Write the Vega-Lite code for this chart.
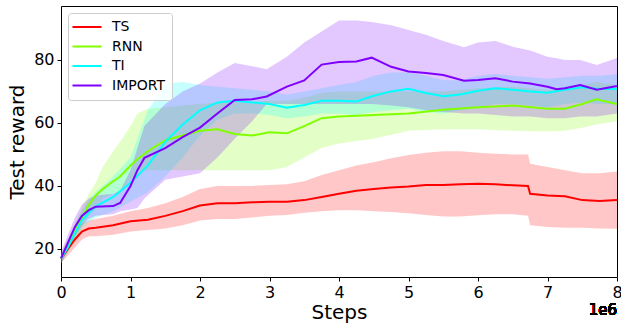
{
  "$schema": "https://vega.github.io/schema/vega-lite/v6.json",
  "width": 556,
  "height": 271,
  "autosize": {"type": "none"},
  "padding": {"left": 61, "top": 6, "right": 4, "bottom": 48},
  "config": {
    "font": "DejaVu Sans",
    "view": {"stroke": "#000", "strokeWidth": 1},
    "axis": {
      "grid": false, "domain": false, "tickColor": "#000", "tickSize": 4, "tickWidth": 1,
      "labelColor": "#000", "labelFontSize": 16, "labelPadding": 3, "labelFont": "DejaVu Sans",
      "titleColor": "#000", "titleFontSize": 20, "titleFontWeight": "normal", "titleFont": "DejaVu Sans"
    },
    "legend": {
      "orient": "top-left", "offset": 7, "padding": 7, "strokeColor": "#ccc",
      "fillColor": "rgba(255,255,255,0.8)", "cornerRadius": 3, "symbolType": "M-2.42,0H2.42",
      "symbolStrokeWidth": 2, "symbolSize": 144, "symbolOffset": 5, "labelFontSize": 14, "labelColor": "#000",
      "labelFont": "DejaVu Sans", "labelOffset": 18, "rowPadding": 5.5
    }
  },
  "resolve": {"scale": {"fill": "independent", "stroke": "independent"}, "legend": {"fill": "independent", "stroke": "independent"}},
  "data": {"values": [
    {"series":"TS","step":0,"mean":17,"lo":15.5,"hi":18.5},
    {"series":"TS","step":100000,"mean":20,"lo":18,"hi":22},
    {"series":"TS","step":200000,"mean":23,"lo":20.5,"hi":25.5},
    {"series":"TS","step":300000,"mean":25.5,"lo":23,"hi":28},
    {"series":"TS","step":400000,"mean":26.5,"lo":24,"hi":29},
    {"series":"TS","step":500000,"mean":26.7,"lo":24,"hi":29.5},
    {"series":"TS","step":750000,"mean":27.5,"lo":24.5,"hi":30.5},
    {"series":"TS","step":1000000,"mean":28.8,"lo":25.5,"hi":32},
    {"series":"TS","step":1250000,"mean":29.3,"lo":26,"hi":33},
    {"series":"TS","step":1500000,"mean":30.5,"lo":26.5,"hi":34.5},
    {"series":"TS","step":1750000,"mean":32,"lo":27.5,"hi":36.5},
    {"series":"TS","step":2000000,"mean":33.8,"lo":29,"hi":39},
    {"series":"TS","step":2250000,"mean":34.5,"lo":29.5,"hi":40},
    {"series":"TS","step":2500000,"mean":34.5,"lo":29.5,"hi":40},
    {"series":"TS","step":2750000,"mean":34.8,"lo":30,"hi":40},
    {"series":"TS","step":3000000,"mean":35,"lo":30.5,"hi":40.3},
    {"series":"TS","step":3250000,"mean":35,"lo":30.8,"hi":40.5},
    {"series":"TS","step":3500000,"mean":35.5,"lo":31.5,"hi":41.5},
    {"series":"TS","step":3750000,"mean":36.5,"lo":32,"hi":43.5},
    {"series":"TS","step":4000000,"mean":37.5,"lo":32.3,"hi":45},
    {"series":"TS","step":4250000,"mean":38.5,"lo":32.3,"hi":46.5},
    {"series":"TS","step":4500000,"mean":39,"lo":32,"hi":47.5},
    {"series":"TS","step":4750000,"mean":39.5,"lo":31.7,"hi":48.8},
    {"series":"TS","step":5000000,"mean":39.8,"lo":31.3,"hi":49.8},
    {"series":"TS","step":5250000,"mean":40.3,"lo":30.8,"hi":50.5},
    {"series":"TS","step":5500000,"mean":40.3,"lo":30.3,"hi":51},
    {"series":"TS","step":5750000,"mean":40.5,"lo":30.3,"hi":51},
    {"series":"TS","step":6000000,"mean":40.7,"lo":30.7,"hi":50.5},
    {"series":"TS","step":6250000,"mean":40.5,"lo":31,"hi":50.2},
    {"series":"TS","step":6500000,"mean":40.2,"lo":31,"hi":50},
    {"series":"TS","step":6720000,"mean":40,"lo":30.5,"hi":50},
    {"series":"TS","step":6750000,"mean":37.5,"lo":27.5,"hi":47},
    {"series":"TS","step":7000000,"mean":37,"lo":27,"hi":46},
    {"series":"TS","step":7250000,"mean":36.7,"lo":26.7,"hi":45},
    {"series":"TS","step":7500000,"mean":35.5,"lo":26.7,"hi":44},
    {"series":"TS","step":7750000,"mean":35.2,"lo":26.5,"hi":44},
    {"series":"TS","step":8000000,"mean":35.5,"lo":26.4,"hi":44.6},

    {"series":"RNN","step":0,"mean":17,"lo":15.5,"hi":19},
    {"series":"RNN","step":100000,"mean":21,"lo":19,"hi":23},
    {"series":"RNN","step":200000,"mean":25.5,"lo":22.5,"hi":28},
    {"series":"RNN","step":300000,"mean":30,"lo":27,"hi":33},
    {"series":"RNN","step":400000,"mean":34,"lo":30.5,"hi":37.5},
    {"series":"RNN","step":500000,"mean":37,"lo":33,"hi":41},
    {"series":"RNN","step":600000,"mean":39,"lo":36,"hi":46},
    {"series":"RNN","step":750000,"mean":41.5,"lo":37.7,"hi":51},
    {"series":"RNN","step":850000,"mean":43,"lo":37.7,"hi":54},
    {"series":"RNN","step":1000000,"mean":46.5,"lo":42,"hi":59},
    {"series":"RNN","step":1100000,"mean":48.5,"lo":45,"hi":63},
    {"series":"RNN","step":1250000,"mean":51,"lo":45,"hi":64.5},
    {"series":"RNN","step":1500000,"mean":54.5,"lo":45,"hi":65},
    {"series":"RNN","step":1750000,"mean":56,"lo":45,"hi":65.5},
    {"series":"RNN","step":2000000,"mean":57.5,"lo":45,"hi":66},
    {"series":"RNN","step":2250000,"mean":58,"lo":45,"hi":66.5},
    {"series":"RNN","step":2500000,"mean":56.5,"lo":45,"hi":66.5},
    {"series":"RNN","step":2750000,"mean":56,"lo":45,"hi":66.5},
    {"series":"RNN","step":3000000,"mean":57,"lo":45,"hi":67},
    {"series":"RNN","step":3250000,"mean":56.7,"lo":46,"hi":67},
    {"series":"RNN","step":3500000,"mean":59,"lo":49,"hi":68},
    {"series":"RNN","step":3750000,"mean":61.5,"lo":52,"hi":69.5},
    {"series":"RNN","step":4000000,"mean":62,"lo":53.5,"hi":70},
    {"series":"RNN","step":4500000,"mean":62.5,"lo":55,"hi":70},
    {"series":"RNN","step":5000000,"mean":63,"lo":57.5,"hi":70},
    {"series":"RNN","step":5500000,"mean":64.2,"lo":58,"hi":70},
    {"series":"RNN","step":6000000,"mean":65,"lo":58,"hi":71},
    {"series":"RNN","step":6500000,"mean":65.5,"lo":57.5,"hi":71.5},
    {"series":"RNN","step":7000000,"mean":64.5,"lo":57.3,"hi":70.5},
    {"series":"RNN","step":7250000,"mean":64.5,"lo":57.5,"hi":70.5},
    {"series":"RNN","step":7500000,"mean":66,"lo":58.5,"hi":72},
    {"series":"RNN","step":7700000,"mean":67.5,"lo":59.5,"hi":73},
    {"series":"RNN","step":8000000,"mean":66,"lo":60.5,"hi":72},

    {"series":"TI","step":0,"mean":17,"lo":15.5,"hi":18.5},
    {"series":"TI","step":100000,"mean":20.5,"lo":19,"hi":22.5},
    {"series":"TI","step":200000,"mean":25,"lo":23,"hi":27.5},
    {"series":"TI","step":300000,"mean":29,"lo":26.5,"hi":32},
    {"series":"TI","step":400000,"mean":31.5,"lo":28.5,"hi":35.5},
    {"series":"TI","step":500000,"mean":33.5,"lo":30,"hi":38},
    {"series":"TI","step":750000,"mean":36.5,"lo":32,"hi":43},
    {"series":"TI","step":1000000,"mean":41,"lo":35,"hi":49},
    {"series":"TI","step":1250000,"mean":46.5,"lo":38,"hi":64},
    {"series":"TI","step":1500000,"mean":54,"lo":43,"hi":72.5},
    {"series":"TI","step":1750000,"mean":59.5,"lo":49,"hi":73},
    {"series":"TI","step":2000000,"mean":64,"lo":56,"hi":72},
    {"series":"TI","step":2250000,"mean":66.5,"lo":61,"hi":71.5},
    {"series":"TI","step":2500000,"mean":67,"lo":63,"hi":71},
    {"series":"TI","step":2750000,"mean":66.5,"lo":63,"hi":70.5},
    {"series":"TI","step":3000000,"mean":66,"lo":62.5,"hi":70},
    {"series":"TI","step":3250000,"mean":64.8,"lo":61.5,"hi":69},
    {"series":"TI","step":3500000,"mean":65.7,"lo":62,"hi":70},
    {"series":"TI","step":3750000,"mean":67,"lo":63,"hi":71},
    {"series":"TI","step":4000000,"mean":67,"lo":63,"hi":72},
    {"series":"TI","step":4250000,"mean":66.8,"lo":62.5,"hi":73},
    {"series":"TI","step":4500000,"mean":68.6,"lo":63.5,"hi":75},
    {"series":"TI","step":4750000,"mean":70,"lo":64,"hi":76},
    {"series":"TI","step":5000000,"mean":70.8,"lo":64.5,"hi":76},
    {"series":"TI","step":5250000,"mean":69.5,"lo":63.5,"hi":75},
    {"series":"TI","step":5500000,"mean":68.5,"lo":63,"hi":73.5},
    {"series":"TI","step":5750000,"mean":69,"lo":64,"hi":73.5},
    {"series":"TI","step":6000000,"mean":70.2,"lo":65,"hi":75},
    {"series":"TI","step":6250000,"mean":71,"lo":66,"hi":75.5},
    {"series":"TI","step":6500000,"mean":70.5,"lo":66,"hi":75},
    {"series":"TI","step":6750000,"mean":70,"lo":65.5,"hi":74.5},
    {"series":"TI","step":7000000,"mean":69.6,"lo":65,"hi":74},
    {"series":"TI","step":7250000,"mean":70.5,"lo":66,"hi":74.5},
    {"series":"TI","step":7500000,"mean":71.3,"lo":66.5,"hi":75},
    {"series":"TI","step":7750000,"mean":70.8,"lo":66,"hi":75},
    {"series":"TI","step":8000000,"mean":70.8,"lo":66,"hi":75.5},

    {"series":"IMPORT","step":0,"mean":17,"lo":15.5,"hi":19},
    {"series":"IMPORT","step":100000,"mean":22,"lo":19.5,"hi":24.5},
    {"series":"IMPORT","step":200000,"mean":27,"lo":24,"hi":30},
    {"series":"IMPORT","step":300000,"mean":30.5,"lo":27.5,"hi":34},
    {"series":"IMPORT","step":400000,"mean":32.3,"lo":29.5,"hi":36},
    {"series":"IMPORT","step":500000,"mean":33.4,"lo":30.5,"hi":37},
    {"series":"IMPORT","step":750000,"mean":33.6,"lo":31,"hi":37.5},
    {"series":"IMPORT","step":850000,"mean":34.6,"lo":32,"hi":38.5},
    {"series":"IMPORT","step":1000000,"mean":40,"lo":32.5,"hi":45},
    {"series":"IMPORT","step":1100000,"mean":45,"lo":33,"hi":52},
    {"series":"IMPORT","step":1200000,"mean":48.9,"lo":36,"hi":59},
    {"series":"IMPORT","step":1500000,"mean":52,"lo":42,"hi":66},
    {"series":"IMPORT","step":1750000,"mean":55.5,"lo":43,"hi":70},
    {"series":"IMPORT","step":2000000,"mean":58.5,"lo":44,"hi":72.5},
    {"series":"IMPORT","step":2250000,"mean":63,"lo":49,"hi":76},
    {"series":"IMPORT","step":2500000,"mean":67.3,"lo":55,"hi":79},
    {"series":"IMPORT","step":2750000,"mean":67.5,"lo":60.5,"hi":78},
    {"series":"IMPORT","step":2960000,"mean":68.4,"lo":66,"hi":77},
    {"series":"IMPORT","step":3250000,"mean":71.5,"lo":66,"hi":81},
    {"series":"IMPORT","step":3500000,"mean":73.5,"lo":66,"hi":85.5},
    {"series":"IMPORT","step":3750000,"mean":78.5,"lo":66,"hi":89},
    {"series":"IMPORT","step":4000000,"mean":79.3,"lo":66,"hi":92.5},
    {"series":"IMPORT","step":4250000,"mean":79.5,"lo":66,"hi":92.5},
    {"series":"IMPORT","step":4470000,"mean":80.7,"lo":66,"hi":92},
    {"series":"IMPORT","step":4750000,"mean":77.8,"lo":65.5,"hi":91},
    {"series":"IMPORT","step":5000000,"mean":76.3,"lo":65,"hi":89.5},
    {"series":"IMPORT","step":5250000,"mean":75.8,"lo":64,"hi":88},
    {"series":"IMPORT","step":5500000,"mean":75.2,"lo":63.5,"hi":86},
    {"series":"IMPORT","step":5800000,"mean":73.4,"lo":63,"hi":84},
    {"series":"IMPORT","step":6000000,"mean":73.6,"lo":63,"hi":85.5},
    {"series":"IMPORT","step":6250000,"mean":74.2,"lo":62.5,"hi":86},
    {"series":"IMPORT","step":6500000,"mean":73.1,"lo":62,"hi":84.2},
    {"series":"IMPORT","step":6750000,"mean":72.5,"lo":62,"hi":83},
    {"series":"IMPORT","step":7000000,"mean":71.5,"lo":61.5,"hi":81},
    {"series":"IMPORT","step":7130000,"mean":70.7,"lo":61.5,"hi":80.5},
    {"series":"IMPORT","step":7250000,"mean":71,"lo":61.5,"hi":80},
    {"series":"IMPORT","step":7470000,"mean":72,"lo":62,"hi":80},
    {"series":"IMPORT","step":7710000,"mean":70.5,"lo":62,"hi":78.4},
    {"series":"IMPORT","step":8000000,"mean":71.7,"lo":63,"hi":80.6}
  ]},
  "layer": [
    {
      "mark": {"type": "area", "opacity": 0.22},
      "encoding": {
        "x": {"field": "step", "type": "quantitative", "scale": {"domain": [0, 8000000], "nice": false},
              "axis": {"values": [0,1000000,2000000,3000000,4000000,5000000,6000000,7000000,8000000],
                       "labelExpr": "format(datum.value/1000000,'d')", "labelFlush": false, "labelOverlap": false,
                       "title": "Steps", "titlePadding": 2}},
        "y": {"field": "lo", "type": "quantitative", "scale": {"domain": [11.1, 97.1], "nice": false, "zero": false},
              "axis": {"values": [20,40,60,80], "title": "Test reward", "titlePadding": 6}},
        "y2": {"field": "hi"},
        "fill": {"field": "series", "type": "nominal", "legend": null,
                 "scale": {"domain": ["TS","RNN","TI","IMPORT"], "range": ["#ff0000","#80ff00","#00ffff","#7f00ff"]}}
      }
    },
    {
      "mark": {"type": "line", "strokeWidth": 2},
      "encoding": {
        "x": {"field": "step", "type": "quantitative"},
        "y": {"field": "mean", "type": "quantitative"},
        "stroke": {"field": "series", "type": "nominal",
                   "scale": {"domain": ["TS","RNN","TI","IMPORT"], "range": ["#ff0000","#80ff00","#00ffff","#7f00ff"]},
                   "legend": {"title": null}}
      }
    },
    {
      "mark": {"type": "text", "text": "1e6", "align": "right", "baseline": "alphabetic", "dy": 38, "fontSize": 15, "fill": "#000"},
      "encoding": {
        "x": {"datum": 8000000, "type": "quantitative"},
        "y": {"datum": 11.1, "type": "quantitative"}
      }
    }
  ]
}
